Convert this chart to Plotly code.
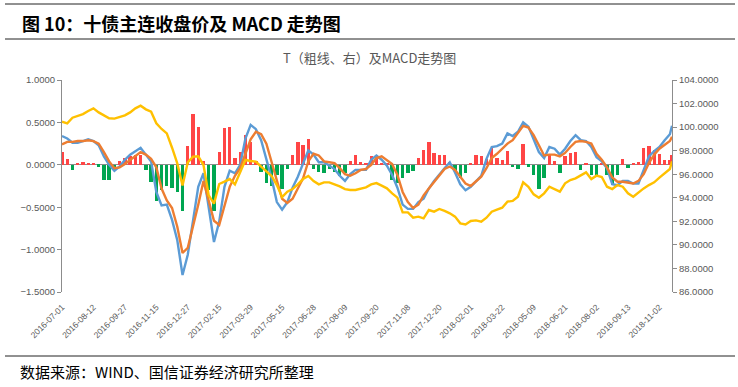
import plotly.graph_objects as go

# trading-day index of each sampled point (every 5th trading day)
day_index = list(range(0, 581, 5)) + [582]

dif = [0.34, 0.31, 0.26, 0.26, 0.28, 0.30, 0.28, 0.23, 0.10, 0.00,
       -0.07, -0.02, 0.06, 0.12, 0.16, 0.20, 0.12, 0.04, -0.32, -0.48,
       -0.47, -0.65, -0.89, -1.30, -1.06, -0.63, -0.26, -0.10, -0.51, -0.91,
       -0.67, -0.26, -0.07, -0.10, 0.00, 0.31, 0.47, 0.42, 0.29, 0.06,
       -0.16, -0.44, -0.53, -0.44, -0.27, -0.14, 0.02, 0.17, 0.12, 0.03,
       0.03, -0.01, -0.05, -0.13, -0.19, -0.11, -0.06, -0.06, -0.06, 0.06,
       0.11, 0.06, -0.01, -0.12, -0.27, -0.47, -0.52, -0.52, -0.44, -0.40,
       -0.28, -0.19, -0.11, -0.04, 0.03, -0.09, -0.23, -0.30, -0.26, -0.19,
       -0.13, 0.07, 0.21, 0.22, 0.25, 0.37, 0.34, 0.39, 0.50, 0.45,
       0.31, 0.15, 0.08, 0.21, 0.19, 0.12, 0.19, 0.28, 0.35, 0.29,
       0.28, 0.21, 0.09, 0.04, -0.04, -0.23, -0.24, -0.19, -0.19, -0.22,
       -0.22, -0.05, 0.10, 0.16, 0.21, 0.29, 0.36, 0.46]

dea = [0.24, 0.27, 0.27, 0.28, 0.28, 0.29, 0.28, 0.25, 0.15, 0.04,
       -0.04, -0.03, 0.01, 0.06, 0.10, 0.15, 0.12, 0.07, -0.03, -0.28,
       -0.42, -0.51, -0.73, -1.04, -0.98, -0.73, -0.47, -0.19, -0.42, -0.66,
       -0.71, -0.49, -0.26, -0.13, -0.04, 0.13, 0.30, 0.39, 0.36, 0.25,
       0.03, -0.20, -0.40, -0.45, -0.40, -0.28, -0.16, 0.04, 0.13, 0.11,
       0.04, 0.03, 0.02, -0.04, -0.11, -0.13, -0.10, -0.06, -0.05, 0.00,
       0.08, 0.10, 0.06, 0.01, -0.12, -0.32, -0.44, -0.51, -0.47, -0.36,
       -0.28, -0.20, -0.13, -0.05, -0.02, -0.06, -0.14, -0.22, -0.25, -0.19,
       -0.14, -0.04, 0.08, 0.13, 0.19, 0.25, 0.29, 0.38, 0.46, 0.44,
       0.35, 0.23, 0.11, 0.12, 0.12, 0.10, 0.14, 0.21, 0.27, 0.28,
       0.27, 0.25, 0.13, 0.06, -0.03, -0.15, -0.20, -0.20, -0.21, -0.22,
       -0.19, -0.11, 0.02, 0.12, 0.19, 0.23, 0.28, 0.33]

macd = [0.15, 0.07, -0.06, 0.02, 0.03, 0.02, 0.02, -0.02, -0.18, -0.18,
        -0.05, 0.05, 0.08, 0.10, 0.11, 0.11, -0.06, -0.20, -0.43, -0.30,
        -0.25, -0.27, -0.32, -0.55, 0.22, 0.60, 0.45, 0.05, -0.30, -0.55,
        0.15, 0.43, 0.45, 0.08, 0.15, 0.35, 0.27, 0.05, -0.08, -0.22,
        -0.25, -0.12, -0.28, -0.05, 0.12, 0.27, 0.23, 0.30, -0.05, -0.08,
        -0.10, -0.05, -0.08, -0.13, -0.10, 0.05, 0.11, 0.03, 0.02, 0.10,
        0.11, 0.02, 0.01, -0.18, -0.21, -0.16, -0.10, -0.07, 0.08, 0.17,
        0.27, 0.14, 0.11, 0.12, 0.03, -0.07, -0.15, -0.10, 0.02, 0.11,
        0.10, 0.07, 0.20, 0.08, 0.06, 0.16, -0.03, -0.05, 0.25, -0.02,
        -0.12, -0.28, -0.15, 0.13, 0.04, -0.10, 0.10, 0.14, 0.15, -0.06,
        0.02, -0.12, -0.12, 0.01, -0.12, -0.24, -0.12, 0.07, -0.04, 0.02,
        0.03, 0.20, 0.22, 0.17, 0.13, 0.06, 0.06, 0.12]

t_close = [100.46, 100.32, 100.80, 100.97, 101.11, 101.37, 101.59, 101.25, 100.97, 100.75,
           100.72, 100.89, 101.00, 101.25, 101.59, 101.82, 101.51, 101.31, 100.32, 99.84,
           99.47, 98.25, 96.92, 95.05, 97.01, 97.49, 97.52, 96.78, 94.20, 93.50,
           95.17, 95.37, 95.59, 95.14, 96.22, 97.21, 97.12, 97.07, 96.64, 96.27,
           95.85, 95.08, 94.05, 94.52, 94.74, 95.14, 95.59, 95.85, 95.42, 95.14,
           95.31, 95.31, 95.17, 94.97, 94.74, 94.66, 94.66, 94.80, 94.89, 95.14,
           95.25, 95.03, 94.80, 94.38, 94.01, 92.76, 92.76, 92.31, 92.40, 92.25,
           92.96, 92.82, 93.05, 92.88, 92.68, 92.40, 91.83, 91.74, 92.03, 92.08,
           91.97, 92.31, 92.82, 92.99, 93.16, 93.67, 93.73, 94.09, 95.31, 94.94,
           94.29, 94.01, 94.38, 94.94, 94.74, 94.52, 95.23, 95.51, 95.65, 95.88,
           96.16, 95.59, 95.88, 95.76, 94.94, 94.74, 95.08, 94.94, 94.38, 94.09,
           94.46, 94.80, 95.08, 95.31, 95.71, 96.05, 96.44, 97.10]

tick_index = list(range(0, 571, 30))
tick_labels = ["2016-07-01", "2016-08-12", "2016-09-27", "2016-11-15", "2016-12-27",
               "2017-02-15", "2017-03-29", "2017-05-15", "2017-06-28", "2017-08-09",
               "2017-09-20", "2017-11-08", "2017-12-20", "2018-02-01", "2018-03-22",
               "2018-05-09", "2018-06-21", "2018-08-02", "2018-09-13", "2018-11-02"]

RED = "#FF4545"
GREEN = "#00A651"
BLUE = "#5B9BD5"
ORANGE = "#ED7D31"
YELLOW = "#FFC000"
AX = "#8C8C8C"
TXT = "#595959"
CJK = "Noto Sans CJK SC"
LAT = "Liberation Sans"

fig = go.Figure()
fig.add_trace(go.Bar(x=day_index, y=macd, width=3.2,
                     marker=dict(color=[RED if v >= 0 else GREEN for v in macd], line=dict(width=0)),
                     name="MACD", showlegend=False))
fig.add_trace(go.Scatter(x=day_index, y=dif, mode="lines", line=dict(color=BLUE, width=2.4),
                         name="DIF", showlegend=False))
fig.add_trace(go.Scatter(x=day_index, y=dea, mode="lines", line=dict(color=ORANGE, width=2.4),
                         name="DEA", showlegend=False))
fig.add_trace(go.Scatter(x=day_index, y=t_close, mode="lines", yaxis="y2",
                         line=dict(color=YELLOW, width=2.4), name="T", showlegend=False))

fig.update_layout(
    width=738, height=387,
    margin=dict(l=62, r=66, t=80, b=95),
    paper_bgcolor="white", plot_bgcolor="white",
    bargap=0,
    xaxis=dict(range=[0, 582], tickmode="array", tickvals=tick_index, ticktext=tick_labels,
               tickangle=-45, showgrid=False, zeroline=False, showline=False,
               ticks="outside", ticklen=6, tickcolor="rgba(0,0,0,0)",
               tickfont=dict(family=LAT, size=8.5, color=TXT)),
    yaxis=dict(range=[-1.5, 1.0], dtick=0.5, tick0=0, tickformat=".4f",
               showgrid=False, zeroline=True, zerolinecolor=AX, zerolinewidth=1,
               showline=True, linecolor=AX, linewidth=1, ticks="outside", ticklen=4,
               tickcolor=AX, tickfont=dict(family=LAT, size=9.5, color=TXT)),
    yaxis2=dict(range=[86, 104], dtick=2, tick0=86, tickformat=".4f", overlaying="y", side="right",
                showgrid=False, zeroline=False, showline=True, linecolor=AX, linewidth=1,
                ticks="outside", ticklen=4, tickcolor=AX,
                tickfont=dict(family=LAT, size=9.5, color=TXT)),
    showlegend=False,
)

# horizontal rules of the report frame
for yp in [(292 - 4) / 212, (292 - 39) / 212, (292 - 356) / 212]:
    fig.add_shape(type="line", xref="paper", yref="paper",
                  x0=(5 - 62) / 610, x1=(735 - 62) / 610, y0=yp, y1=yp,
                  line=dict(color="#222222", width=1))

fig.add_annotation(xref="paper", yref="paper", x=(20 - 62) / 610, y=(292 - 22.5) / 212,
                   xanchor="left", yanchor="middle", showarrow=False,
                   text="<b>图 10：十债主连收盘价及 MACD 走势图</b>",
                   font=dict(family=CJK, size=18, color="#000000"))
fig.add_annotation(xref="paper", yref="paper", x=(369 - 62) / 610, y=(292 - 58) / 212,
                   xanchor="center", yanchor="middle", showarrow=False,
                   text="T（粗线、右）及MACD走势图",
                   font=dict(family=CJK, size=13, color=TXT))
fig.add_annotation(xref="paper", yref="paper", x=(18 - 62) / 610, y=(292 - 371) / 212,
                   xanchor="left", yanchor="middle", showarrow=False,
                   text="数据来源：WIND、国信证券经济研究所整理",
                   font=dict(family=CJK, size=15, color="#000000"))

fig.write_html("out.html", config={"displayModeBar": False},
               post_script="document.body.style.margin='0px';document.body.style.padding='0px';")
